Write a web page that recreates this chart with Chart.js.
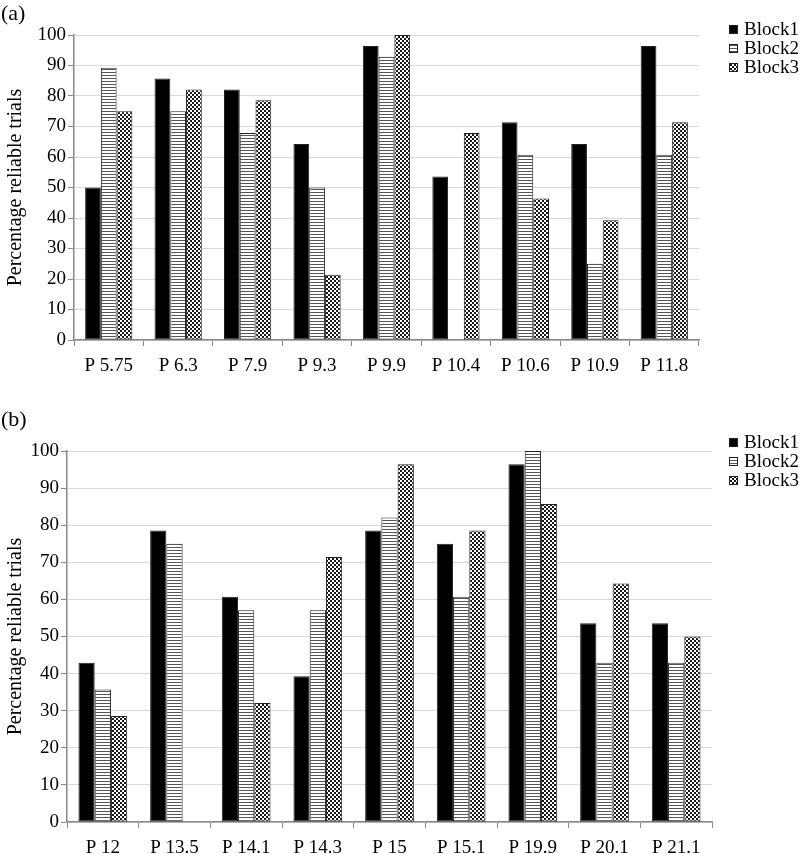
<!DOCTYPE html>
<html>
<head>
<meta charset="utf-8">
<title>Percentage reliable trials</title>
<script src="https://cdn.jsdelivr.net/npm/chart.js"></script>
<style>
  body { margin: 0; background: #fff; font-family: "Liberation Serif", serif; }
  canvas { position: absolute; left: 0; }
  .tag { position: absolute; left: 1px; font-size: 22px; line-height: 24px; }
</style>
</head>
<body>
<canvas id="chartA" width="800" height="390" style="top:0"></canvas>
<canvas id="chartB" width="800" height="454" style="top:400px"></canvas>
<div class="tag" style="top:1px">(a)</div>
<div class="tag" style="top:407px">(b)</div>

<script>
  // panel (a)
  const labelsA = ['P 5.75', 'P 6.3', 'P 7.9', 'P 9.3', 'P 9.9', 'P 10.4', 'P 10.6', 'P 10.9', 'P 11.8'];
  const block1A = [50, 85.7, 82.1, 64.3, 96.4, 53.6, 71.4, 64.3, 96.4];
  const block2A = [89.3, 75, 67.9, 50, 92.9, 0, 60.7, 25, 60.7];
  const block3A = [75, 82.1, 78.6, 21.4, 100, 67.9, 46.4, 39.3, 71.4];

  // panel (b)
  const labelsB = ['P 12', 'P 13.5', 'P 14.1', 'P 14.3', 'P 15', 'P 15.1', 'P 19.9', 'P 20.1', 'P 21.1'];
  const block1B = [42.9, 78.6, 60.7, 39.3, 78.6, 75, 96.4, 53.6, 53.6];
  const block2B = [35.7, 75, 57.1, 57.1, 82.1, 60.7, 100, 42.9, 42.9];
  const block3B = [28.6, 0, 32.1, 71.4, 96.4, 78.6, 85.7, 64.3, 50];

  const seriesNames = ['Block1', 'Block2', 'Block3'];
  const yTicks = [0, 10, 20, 30, 40, 50, 60, 70, 80, 90, 100];

  // fill patterns: horizontal stripes and fine checker
  function makePattern(w, h, draw) {
    const c = document.createElement('canvas');
    c.width = w; c.height = h;
    const g = c.getContext('2d');
    g.fillStyle = '#fff';
    g.fillRect(0, 0, w, h);
    draw(g);
    return g.createPattern(c, 'repeat');
  }
  const stripes = makePattern(1, 3, g => { g.fillStyle = '#555'; g.fillRect(0, 0, 1, 1); });
  const checker = makePattern(4, 4, g => {
    g.fillStyle = '#1a1a1a';
    g.fillRect(2, 0, 2, 2);
    g.fillRect(0, 2, 2, 2);
  });
  const fills = ['#000', stripes, checker];

  const sideLegend = {
    id: 'sideLegend',
    afterDraw(chart, args, opts) {
      const ctx = chart.ctx;
      ctx.save();
      ctx.font = '19px "Liberation Serif"';
      ctx.textBaseline = 'middle';
      chart.data.datasets.forEach((ds, i) => {
        const y = opts.y + i * opts.gap;
        ctx.fillStyle = ds.backgroundColor;
        ctx.fillRect(opts.x, y - 4, 9, 9);
        ctx.strokeStyle = '#222';
        ctx.lineWidth = 1;
        ctx.strokeRect(opts.x + 0.5, y - 3.5, 8, 8);
        ctx.fillStyle = '#000';
        ctx.fillText(ds.label, opts.x + 15, y + 1);
      });
      ctx.restore();
    }
  };

  function makeChart(id, labels, values, box) {
    new Chart(document.getElementById(id), {
      type: 'bar',
      data: {
        labels: labels,
        datasets: values.map((v, i) => ({
          label: seriesNames[i],
          data: v,
          backgroundColor: fills[i],
          borderColor: '#222',
          borderWidth: c => (c.raw === 0 ? 0 : 1),
          borderSkipped: false,
          categoryPercentage: 0.68,
          barPercentage: 1
        }))
      },
      plugins: [sideLegend],
      options: {
        responsive: false,
        animation: false,
        devicePixelRatio: 1,
        layout: { padding: { left: 0, top: box.top, right: box.right, bottom: 0 } },
        plugins: {
          legend: { display: false },
          tooltip: { enabled: false },
          sideLegend: { x: 729, y: box.legendY, gap: 19 }
        },
        scales: {
          x: {
            afterFit: s => { s.height = box.xHeight; },
            grid: { offset: true, drawOnChartArea: false, tickLength: 6, tickColor: '#888' },
            border: { color: '#888', width: 1.5 },
            ticks: { color: '#000', padding: 9, font: { family: 'Liberation Serif', size: 19 } }
          },
          y: {
            min: 0, max: 100,
            afterFit: s => { s.width = box.yWidth; },
            afterBuildTicks: s => { s.ticks = yTicks.map(v => ({ value: v })); },
            grid: { color: '#d9d9d9', tickLength: 6, tickColor: '#888' },
            border: { color: '#888', width: 1.5 },
            ticks: { color: '#000', padding: 2, font: { family: 'Liberation Serif', size: 19 } },
            title: {
              display: true,
              text: 'Percentage reliable trials',
              color: '#000',
              padding: { top: 4, bottom: 0 },
              font: { family: 'Liberation Serif', size: 20 }
            }
          }
        }
      }
    });
  }

  makeChart('chartA', labelsA, [block1A, block2A, block3A],
    { top: 35, right: 101, xHeight: 50, yWidth: 74, legendY: 29 });
  makeChart('chartB', labelsB, [block1B, block2B, block3B],
    { top: 51, right: 88, xHeight: 32, yWidth: 67, legendY: 42 });
</script>
</body>
</html>
